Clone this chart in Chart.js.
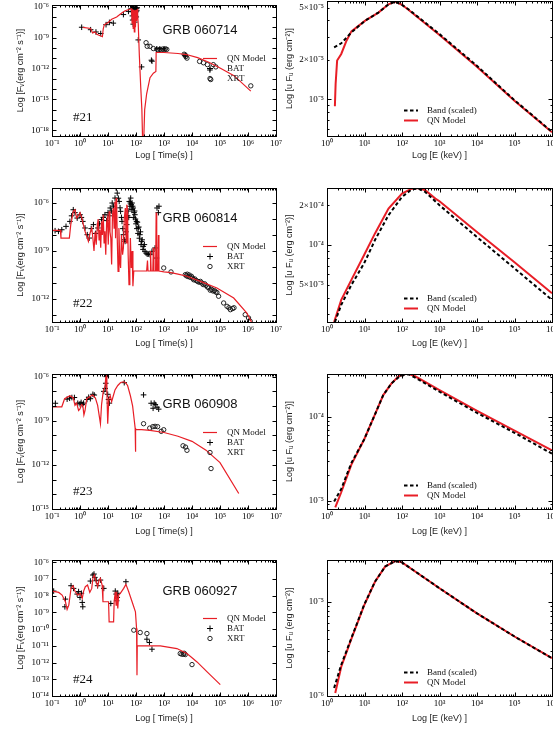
<!DOCTYPE html>
<html>
<head>
<meta charset="utf-8">
<script src="https://cdn.jsdelivr.net/npm/chart.js"></script>
<style>
  body { margin: 0; background: #fff; width: 553px; height: 748px; overflow: hidden; }
  canvas { position: absolute; left: 0; top: 0; }
</style>
</head>
<body>
<canvas id="c21" width="553" height="748"></canvas>
<canvas id="s21" width="553" height="748"></canvas>
<canvas id="c22" width="553" height="748"></canvas>
<canvas id="s22" width="553" height="748"></canvas>
<canvas id="c23" width="553" height="748"></canvas>
<canvas id="s23" width="553" height="748"></canvas>
<canvas id="c24" width="553" height="748"></canvas>
<canvas id="s24" width="553" height="748"></canvas>
<script>
// all values as [log10 x, log10 y]

// ---- GRB 060714 (#21) light curve ----
var model21 = [[0.1,-8.02],[0.38,-8.12],[0.45,-8.55],[0.54,-8.46],[0.6,-8.68],[0.8,-8.92],[0.83,-8.15],[0.87,-7.75],
  [1.01,-7.53],[1.13,-7.23],[1.31,-7.01],[1.49,-6.61],[1.61,-6.4],[1.84,-6.2],[1.86,-7.6],[1.88,-6.25],[1.9,-8.1],
  [1.92,-6.3],[1.94,-8.45],[1.96,-6.35],[1.98,-8.0],[2.0,-6.3],[2.02,-7.4],[2.04,-6.2],[2.06,-6.9],[2.08,-7.7],
  [2.12,-10.76],[2.17,-13.85],[2.21,-16.0],[2.24,-19.5],[2.27,-19.5],[2.31,-16.0],[2.38,-14.46],[2.5,-12.9],
  [2.62,-12.46],[2.71,-12.3],[2.72,-10.45],[3.0,-10.45],[3.5,-10.55],[3.8,-10.65],[4.2,-10.95],[4.6,-11.4],
  [5.0,-11.95],[5.5,-12.7],[6.1,-14.2]];
var bat21 = [[0.06,-8.0],[0.38,-8.24],[0.57,-8.46],[0.74,-8.61],[0.93,-7.75],[1.05,-7.53],[1.19,-7.6],[1.55,-6.77],
  [1.73,-6.46],[1.84,-6.2],[1.86,-6.5],[1.87,-6.9],[1.88,-7.3],[1.89,-6.1],[1.9,-7.7],[1.91,-6.4],[1.92,-6.8],
  [1.93,-7.2],[1.94,-6.05],[1.95,-6.6],[1.96,-7.5],[1.97,-6.3],[1.98,-6.9],[1.99,-6.15],[2.0,-6.5],[2.01,-7.0],
  [2.02,-6.2],[2.03,-6.4],[2.04,-6.1],[2.08,-9.23],[2.2,-11.85],[2.55,-11.2],[2.57,-11.3],[2.74,-10.1],
  [2.85,-10.1],[3.0,-10.1],[3.76,-10.77],[4.64,-12.15]];
var xrt21 = [[2.36,-9.5],[2.4,-9.85],[2.5,-9.85],[2.62,-10.07],[2.76,-10.16],[2.86,-10.16],[2.95,-10.12],[3.0,-10.2],
  [3.05,-10.1],[3.1,-10.15],[3.72,-10.62],[3.76,-10.7],[3.78,-10.85],[3.82,-11.0],[4.27,-11.32],[4.41,-11.45],
  [4.55,-11.63],[4.67,-13.08],[4.76,-11.63],[4.85,-11.85],[6.1,-13.69]];

// ---- GRB 060814 (#22) light curve ----
var model22 = [[-1.0,-7.71],[-0.7,-7.71],[-0.68,-8.19],[-0.38,-8.19],[-0.33,-7.35],[-0.24,-6.52],[-0.18,-6.42],
  [-0.12,-6.94],[-0.06,-6.8],[0.0,-6.6],[0.06,-6.9],[0.12,-7.35],[0.18,-7.77],[0.24,-8.08],[0.3,-8.4],[0.36,-7.87],
  [0.42,-7.56],[0.46,-8.2],[0.5,-9.0],[0.54,-7.8],[0.58,-8.6],[0.62,-7.35],[0.65,-7.0],[0.68,-8.3],[0.71,-7.67],
  [0.74,-8.8],[0.77,-7.14],[0.8,-8.0],[0.83,-6.73],[0.86,-8.5],[0.89,-7.77],[0.92,-9.23],[0.95,-7.2],[0.98,-6.94],
  [1.01,-8.6],[1.04,-6.52],[1.07,-7.8],[1.1,-8.19],[1.13,-9.85],[1.16,-6.7],[1.19,-6.31],[1.22,-7.6],[1.25,-5.9],
  [1.27,-8.2],[1.29,-5.69],[1.31,-6.1],[1.33,-8.19],[1.36,-10.27],[1.39,-7.56],[1.42,-9.6],[1.45,-10.06],[1.48,-8.0],
  [1.52,-9.23],[1.55,-8.81],[1.58,-7.0],[1.62,-6.31],[1.65,-8.5],[1.67,-6.1],[1.7,-6.42],[1.72,-9.23],[1.75,-11.1],
  [1.78,-9.65],[1.8,-8.19],[1.83,-10.06],[1.86,-9.0],[1.89,-11.2],[1.92,-10.25],[2.2,-10.25],[2.38,-10.25],
  [2.41,-9.6],[2.43,-10.25],[2.5,-10.25],[2.52,-9.0],[2.54,-10.25],[2.6,-10.25],[2.62,-8.8],[2.64,-10.25],
  [2.7,-10.25],[2.72,-6.6],[2.74,-10.25],[2.78,-10.25],[2.8,-8.0],[2.82,-10.25],[3.0,-10.3],[3.25,-10.35],
  [3.5,-10.45],[3.82,-10.58],[4.3,-10.9],[4.89,-11.31],[5.49,-11.94],[5.96,-12.88],[6.14,-13.5]];
var bat22 = [[-0.89,-7.73],[-0.77,-7.77],[-0.65,-7.67],[-0.5,-7.46],[-0.36,-7.15],[-0.3,-6.8],[-0.24,-6.42],
  [-0.18,-6.6],[-0.1,-6.94],[0.0,-6.73],[0.05,-6.9],[0.1,-7.15],[0.18,-7.56],[0.26,-7.98],[0.33,-8.19],[0.4,-7.6],
  [0.48,-7.35],[0.56,-7.9],[0.64,-7.56],[0.7,-7.3],[0.77,-7.04],[0.83,-6.9],[0.89,-6.73],[0.95,-7.1],[1.0,-6.6],
  [1.04,-6.8],[1.08,-6.31],[1.12,-6.5],[1.15,-6.0],[1.2,-6.2],[1.25,-5.69],[1.29,-5.06],[1.33,-5.38],[1.37,-5.7],
  [1.4,-5.9],[1.43,-6.3],[1.45,-6.52],[1.48,-6.9],[1.5,-7.15],[1.53,-7.6],[1.55,-7.98],[1.58,-8.3],[1.61,-8.4],
  [1.64,-7.8],[1.67,-7.35],[1.7,-6.8],[1.72,-6.5],[1.74,-6.9],[1.76,-5.9],[1.78,-6.2],[1.8,-6.0],[1.81,-5.69],
  [1.83,-6.1],[1.85,-6.4],[1.86,-6.0],[1.88,-6.2],[1.9,-6.31],[1.92,-6.9],[1.93,-6.6],[1.95,-6.5],[1.96,-6.73],
  [1.98,-7.0],[2.0,-7.3],[2.02,-7.15],[2.03,-7.6],[2.05,-7.2],[2.07,-7.9],[2.08,-7.56],[2.1,-7.5],[2.12,-8.2],
  [2.14,-7.98],[2.16,-7.8],[2.18,-8.6],[2.2,-8.4],[2.22,-8.3],[2.25,-8.9],[2.26,-8.71],[2.3,-8.6],[2.32,-9.02],
  [2.36,-9.13],[2.4,-9.2],[2.45,-9.19],[2.5,-9.23],[2.57,-9.02],[2.68,-8.81],[2.73,-9.44],[2.75,-6.31],
  [2.8,-6.6],[2.82,-6.2]];
var xrt22 = [[2.99,-10.06],[3.25,-10.31],[3.76,-10.48],[3.8,-10.55],[3.83,-10.45],[3.86,-10.6],[3.9,-10.5],
  [3.94,-10.65],[3.98,-10.58],[4.02,-10.7],[4.06,-10.8],[4.1,-10.75],[4.15,-10.85],[4.2,-10.9],[4.25,-10.95],
  [4.3,-10.9],[4.35,-11.0],[4.4,-11.1],[4.45,-11.05],[4.5,-11.15],[4.55,-11.25],[4.6,-11.3],[4.65,-11.45],
  [4.7,-11.4],[4.75,-11.5],[4.8,-11.48],[4.85,-11.56],[4.89,-11.6],[4.95,-11.83],[5.13,-12.25],[5.25,-12.46],
  [5.32,-12.55],[5.37,-12.67],[5.45,-12.6],[5.5,-12.55],[5.9,-12.98],[6.02,-13.19],[6.08,-13.4]];

// ---- GRB 060908 (#23) light curve ----
var model23 = [[-1.0,-8.05],[-0.65,-8.05],[-0.55,-7.5],[-0.36,-7.3],[-0.24,-7.45],[-0.18,-7.95],[-0.12,-7.8],
  [-0.05,-8.3],[0.0,-8.2],[0.05,-7.9],[0.1,-7.95],[0.14,-8.6],[0.18,-8.3],[0.24,-7.5],[0.36,-7.35],[0.45,-7.25],
  [0.55,-7.45],[0.63,-7.95],[0.69,-8.7],[0.73,-9.2],[0.77,-7.9],[0.83,-7.0],[0.89,-6.7],[0.93,-5.85],[0.96,-7.0],
  [0.99,-9.2],[1.03,-7.5],[1.08,-7.3],[1.13,-7.7],[1.19,-7.3],[1.25,-6.9],[1.35,-6.6],[1.45,-6.4],[1.55,-6.35],
  [1.62,-6.4],[1.7,-6.6],[1.8,-7.3],[1.88,-8.0],[1.94,-9.0],[1.97,-9.5],[1.98,-11.1],[1.99,-9.6],[2.2,-9.6],
  [2.5,-9.65],[3.0,-9.8],[3.5,-10.05],[4.0,-10.4],[4.5,-11.0],[5.0,-11.85],[5.67,-13.95]];
var bat23 = [[-0.88,-7.81],[-0.46,-7.53],[-0.37,-7.47],[-0.29,-7.42],[-0.2,-7.42],[-0.08,-7.81],[0.0,-7.85],
  [0.04,-7.75],[0.08,-7.9],[0.13,-7.8],[0.25,-7.55],[0.31,-7.4],[0.37,-7.5],[0.46,-7.2],[0.51,-7.25],[0.85,-7.0],
  [0.9,-6.8],[0.92,-6.45],[0.94,-6.0],[0.96,-5.85],[0.99,-7.2],[1.02,-7.55],[1.05,-7.8],[1.58,-6.41],[2.27,-7.24],
  [2.54,-7.81],[2.61,-8.15],[2.65,-7.8],[2.69,-7.9],[2.75,-8.08],[2.81,-8.21]];
var xrt23 = [[2.27,-9.2],[2.49,-9.5],[2.6,-9.4],[2.68,-9.38],[2.77,-9.4],[2.9,-9.72],[2.99,-9.61],[3.68,-10.7],
  [3.77,-10.79],[3.82,-11.01],[4.68,-12.25]];

// ---- GRB 060927 (#24) light curve ----
var model24 = [[-1.0,-7.72],[-0.76,-7.8],[-0.64,-7.96],[-0.52,-8.36],[-0.46,-8.82],[-0.4,-8.56],[-0.32,-7.56],
  [-0.25,-7.4],[-0.17,-7.76],[-0.08,-7.96],[0.01,-7.86],[0.08,-8.16],[0.13,-7.72],[0.19,-7.46],[0.27,-7.36],
  [0.35,-7.8],[0.42,-7.56],[0.46,-6.96],[0.51,-6.76],[0.58,-7.16],[0.63,-7.46],[0.68,-7.06],[0.73,-6.96],
  [0.79,-7.36],[0.82,-8.36],[1.02,-8.36],[1.04,-9.56],[1.2,-9.56],[1.22,-8.36],[1.26,-7.76],[1.29,-8.56],
  [1.31,-7.76],[1.35,-8.76],[1.38,-7.96],[1.44,-7.86],[1.56,-7.56],[1.64,-7.32],[1.74,-7.76],[1.86,-8.36],
  [1.98,-8.96],[2.02,-9.96],[2.035,-12.76],[2.045,-11.0],[2.87,-11.0],[3.46,-11.16],[3.82,-11.46],[4.18,-11.96],
  [4.54,-12.56],[5.01,-13.32]];
var bat24 = [[-0.94,-7.72],[-0.54,-8.66],[-0.52,-8.2],[-0.32,-7.4],[-0.23,-7.56],[-0.1,-7.9],[-0.05,-7.75],
  [0.0,-8.1],[0.05,-7.85],[0.08,-8.4],[0.1,-8.66],[0.37,-7.12],[0.46,-6.76],[0.5,-6.7],[0.53,-6.9],[0.58,-7.1],
  [0.63,-7.4],[0.73,-7.06],[0.85,-7.56],[1.1,-8.46],[1.26,-7.72],[1.29,-7.9],[1.31,-8.3],[1.33,-8.1],[1.35,-7.85],
  [1.64,-7.16],[2.39,-10.6],[2.48,-10.8],[2.57,-11.2]];
var xrt24 = [[1.92,-10.06],[2.15,-10.2],[2.39,-10.26],[3.58,-11.46],[3.64,-11.5],[3.7,-11.5],[3.72,-11.44],
  [3.76,-11.52],[4.0,-12.12]];

// ---- spectra: log E (keV) vs log nuFnu ----
var band21 = [[0.19,-4.603],[0.38,-4.573],[0.65,-4.49],[1.01,-4.402],[1.37,-4.339],[1.64,-4.276],[1.82,-4.256],
  [2.0,-4.28],[2.17,-4.314],[3.0,-4.503],[3.99,-4.742],[5.0,-5.006],[6.0,-5.246]];
var qn21 = [[0.21,-5.052],[0.23,-4.88],[0.27,-4.704],[0.38,-4.654],[0.52,-4.553],[0.65,-4.482],[1.01,-4.402],
  [1.37,-4.339],[1.64,-4.276],[1.82,-4.256],[2.0,-4.28],[2.17,-4.318],[3.0,-4.51],[3.99,-4.75],[5.0,-5.01],[6.0,-5.25]];
var band22 = [[0.21,-4.582],[0.38,-4.451],[0.65,-4.301],[0.99,-4.138],[1.28,-3.962],[1.64,-3.774],[2.0,-3.636],
  [2.26,-3.579],[2.44,-3.574],[2.62,-3.599],[3.0,-3.699],[3.99,-3.937],[5.0,-4.176],[6.0,-4.414]];
var qn22 = [[0.19,-4.582],[0.38,-4.414],[0.65,-4.263],[0.99,-4.075],[1.28,-3.912],[1.64,-3.724],[2.0,-3.611],
  [2.26,-3.574],[2.44,-3.569],[2.62,-3.586],[2.89,-3.649],[3.0,-3.669],[3.99,-3.9],[5.0,-4.13],[6.0,-4.364]];
var band23 = [[0.19,-5.01],[0.38,-4.86],[0.65,-4.55],[0.99,-4.27],[1.28,-3.97],[1.5,-3.74],[1.72,-3.6],[1.9,-3.53],
  [2.05,-3.5],[2.17,-3.49],[2.35,-3.53],[3.0,-3.7],[3.99,-3.95],[5.0,-4.19],[6.0,-4.44]];
var qn23 = [[0.22,-5.08],[0.38,-4.9],[0.65,-4.57],[0.99,-4.27],[1.28,-3.97],[1.5,-3.74],[1.72,-3.6],[1.9,-3.52],
  [2.05,-3.49],[2.17,-3.485],[2.35,-3.515],[3.0,-3.68],[3.99,-3.925],[5.0,-4.165],[6.0,-4.4]];
var band24 = [[0.19,-5.915],[0.38,-5.669],[0.65,-5.387],[0.99,-5.035],[1.28,-4.789],[1.55,-4.63],[1.82,-4.57],
  [2.0,-4.585],[3.0,-4.859],[3.99,-5.123],[5.0,-5.37],[6.0,-5.599]];
var qn24 = [[0.22,-5.968],[0.38,-5.69],[0.65,-5.395],[0.99,-5.04],[1.28,-4.79],[1.55,-4.63],[1.82,-4.57],
  [2.0,-4.585],[3.0,-4.859],[3.99,-5.123],[5.0,-5.37],[6.0,-5.6]];

// axis ranges (log10) and labelled ticks
var timeTicks = [1e-1, 1, 10, 1e2, 1e3, 1e4, 1e5, 1e6, 1e7];
var energyTicks = [1, 10, 1e2, 1e3, 1e4, 1e5, 1e6];
var lcRanges = [[-18.56, -5.84], [-13.44, -5.06], [-15, -5.82], [-14, -5.86]];
var lcTicks = [[1e-18, 1e-15, 1e-12, 1e-9, 1e-6], [1e-12, 1e-9, 1e-6], [1e-15, 1e-12, 1e-9, 1e-6],
  [1e-14, 1e-13, 1e-12, 1e-11, 1e-10, 1e-9, 1e-8, 1e-7, 1e-6]];
var spRanges = [[-5.278, -4.251], [-4.581, -3.569], [-5.1, -3.488], [-6, -4.56]];
var spTicks = [[1e-5, 2e-5, 5e-5], [5e-5, 1e-4, 2e-4], [1e-5, 1e-4], [1e-6, 1e-5]];
var grbNames = ['GRB 060714', 'GRB 060814', 'GRB 060908', 'GRB 060927'];
var grbTags = ['#21', '#22', '#23', '#24'];

var SANS = '"Liberation Sans", Arial, sans-serif';
var SERIF = '"Liberation Serif", "Times New Roman", serif';
var RED = 'rgb(232, 30, 38)';

// frame geometry of each row, page pixels
var rows = [
  {t: 1, b: 136, off: 20, legL: 58, legR: 110, title: 30, tag: 118},
  {t: 188, b: 322, off: 22, legL: 246, legR: 298, title: 218, tag: 304},
  {t: 374, b: 509, off: 22.5, legL: 432, legR: 485, title: 404, tag: 492},
  {t: 560, b: 696, off: 22.5, legL: 618, legR: 672, title: 591, tag: 680}
];

var SUP = {'0':'⁰','1':'¹','2':'²','3':'³','4':'⁴','5':'⁵','6':'⁶','7':'⁷','8':'⁸','9':'⁹','-':'⁻'};
function sup(n) {
  return String(n).split('').map(function (c) { return SUP[c]; }).join('');
}
function powLabel(v) {
  var e = Math.floor(Math.log10(v) + 1e-9);
  var m = Math.round(v / Math.pow(10, e));
  return (m === 1 ? '' : m + '×') + '10' + sup(e);
}
function pts(arr) {
  return arr.map(function (p) { return {x: Math.pow(10, p[0]), y: Math.pow(10, p[1])}; });
}

function tickMarks(scale, minor) {
  var out = [];
  var e0 = Math.floor(Math.log10(scale.min)), e1 = Math.ceil(Math.log10(scale.max));
  for (var e = e0; e <= e1; e++) {
    for (var k = 1; k <= 9; k++) {
      if (k > 1 && !minor) break;
      var v = k * Math.pow(10, e);
      if (v >= scale.min * 0.999 && v <= scale.max * 1.001) out.push({v: v, len: k === 1 ? 4 : 2});
    }
  }
  return out;
}

// box with inward ticks on four sides, free texts and legend
var framePlugin = {
  id: 'frame',
  afterDatasetsDraw: function (chart, args, o) {
    var ctx = chart.ctx, a = chart.chartArea, xs = chart.scales.x, ys = chart.scales.y;
    var L = Math.round(a.left) + 0.5, R = Math.round(a.right) + 0.5;
    var T = Math.round(a.top) + 0.5, B = Math.round(a.bottom) + 0.5;
    ctx.save();
    ctx.strokeStyle = '#000';
    ctx.lineWidth = 1;
    ctx.strokeRect(L, T, R - L, B - T);
    ctx.beginPath();
    tickMarks(xs, true).forEach(function (t) {
      var p = Math.round(xs.getPixelForValue(t.v)) + 0.5;
      ctx.moveTo(p, B); ctx.lineTo(p, B - t.len);
      ctx.moveTo(p, T); ctx.lineTo(p, T + t.len);
    });
    tickMarks(ys, o.yMinor).forEach(function (t) {
      var p = Math.round(ys.getPixelForValue(t.v)) + 0.5;
      ctx.moveTo(L, p); ctx.lineTo(L + t.len, p);
      ctx.moveTo(R, p); ctx.lineTo(R - t.len, p);
    });
    ctx.stroke();

    ctx.textBaseline = 'middle';
    ctx.fillStyle = '#111';
    (o.texts || []).forEach(function (t) {
      ctx.font = t.font;
      ctx.textAlign = t.align || 'left';
      ctx.fillText(t.text, t.x, t.y);
    });

    var lg = o.legend;
    ctx.font = '9px ' + SERIF;
    ctx.textAlign = 'left';
    chart.data.datasets.forEach(function (ds, i) {
      var y = Math.round(lg.y + i * lg.dy) + 0.5, cx = lg.x + lg.w / 2;
      ctx.strokeStyle = ds.borderColor;
      ctx.lineWidth = ds.borderWidth;
      ctx.beginPath();
      if (ds.showLine) {
        ctx.setLineDash(ds.borderDash || []);
        ctx.moveTo(lg.x, y); ctx.lineTo(lg.x + lg.w, y);
      } else if (ds.pointStyle === 'cross') {
        ctx.moveTo(cx - 3, y); ctx.lineTo(cx + 3, y);
        ctx.moveTo(cx, y - 3); ctx.lineTo(cx, y + 3);
      } else {
        ctx.arc(cx, y, ds.pointRadius, 0, Math.PI * 2);
      }
      ctx.stroke();
      ctx.setLineDash([]);
      ctx.fillStyle = '#111';
      ctx.fillText(ds.label, lg.x + lg.w + lg.gap, y);
    });
    ctx.restore();
  }
};

function logAxis(pos, range, ticks, title, size) {
  return {
    type: 'logarithmic',
    position: pos,
    min: Math.pow(10, range[0]),
    max: Math.pow(10, range[1]),
    grid: {display: false, drawTicks: false},
    border: {display: false},
    ticks: {
      autoSkip: false, maxRotation: 0, minRotation: 0,
      padding: pos === 'bottom' ? 2 : 3,
      color: '#000',
      font: {family: SERIF, size: 9},
      callback: powLabel
    },
    title: {display: true, text: title, color: '#222', font: {family: SANS, size: 9}, padding: 0},
    afterBuildTicks: function (s) {
      s.ticks = ticks.map(function (v) { return {value: v}; });
    },
    afterFit: function (s) {
      if (pos === 'bottom') s.height = size; else s.width = size;
      s.paddingLeft = 0; s.paddingRight = 0; s.paddingTop = 0; s.paddingBottom = 0;
    }
  };
}

function makeChart(id, box, xAxis, yAxis, datasets, deco) {
  new Chart(document.getElementById(id), {
    type: 'scatter',
    data: {datasets: datasets},
    options: {
      responsive: false,
      animation: false,
      events: [],
      devicePixelRatio: 1,
      layout: {padding: {left: box.l - box.yW, top: box.t, right: 553 - box.r, bottom: 748 - box.b - box.xH}},
      plugins: {legend: {display: false}, tooltip: {enabled: false}, frame: deco},
      scales: {x: xAxis, y: yAxis}
    },
    plugins: [framePlugin]
  });
}

var lcModels = [model21, model22, model23, model24];
var lcBat = [bat21, bat22, bat23, bat24];
var lcXrt = [xrt21, xrt22, xrt23, xrt24];
var spBand = [band21, band22, band23, band24];
var spQn = [qn21, qn22, qn23, qn24];

rows.forEach(function (r, i) {
  var n = 21 + i;
  var xH = r.off + 5.4;

  // light curve panel
  var boxL = {l: 52, r: 276, t: r.t, b: r.b, yW: 36.7, xH: xH};
  makeChart('c' + n, boxL,
    logAxis('bottom', [-1, 7], timeTicks, 'Log [ Time(s) ]', xH),
    logAxis('left', lcRanges[i], lcTicks[i], 'Log [Fᵥ(erg cm⁻² s⁻¹)]', 36.7),
    [
      {label: 'QN Model', data: pts(lcModels[i]), showLine: true, borderColor: RED, borderWidth: 1.2, pointRadius: 0, tension: 0},
      {label: 'BAT', data: pts(lcBat[i]), pointStyle: 'cross', pointRadius: 2.8, borderColor: '#000', borderWidth: 1},
      {label: 'XRT', data: pts(lcXrt[i]), pointStyle: 'circle', pointRadius: 2.2, borderColor: '#111', backgroundColor: 'rgba(0,0,0,0)', borderWidth: 0.9}
    ],
    {
      yMinor: false,
      legend: {x: 203, y: r.legL, dy: 9.8, w: 14, gap: 10},
      texts: [
        {text: grbNames[i], x: 200, y: r.title, font: '13px ' + SANS, align: 'center'},
        {text: grbTags[i], x: 73, y: r.tag, font: '13px ' + SERIF}
      ]
    });

  // spectrum panel
  var boxR = {l: 327, r: 552, t: r.t, b: r.b, yW: 42.4, xH: xH};
  makeChart('s' + n, boxR,
    logAxis('bottom', [0, 6], energyTicks, 'Log [E (keV) ]', xH),
    logAxis('left', spRanges[i], spTicks[i], 'Log [u Fᵤ (erg cm⁻²)]', 42.4),
    [
      {label: 'Band (scaled)', data: pts(spBand[i]), showLine: true, borderColor: '#000', borderWidth: 2, borderDash: [3.5, 2.5], pointRadius: 0, tension: 0},
      {label: 'QN Model', data: pts(spQn[i]), showLine: true, borderColor: RED, borderWidth: 2, pointRadius: 0, tension: 0}
    ],
    {
      yMinor: true,
      legend: {x: 404, y: r.legR, dy: 10, w: 14, gap: 9},
      texts: []
    });
});
</script>
</body>
</html>
